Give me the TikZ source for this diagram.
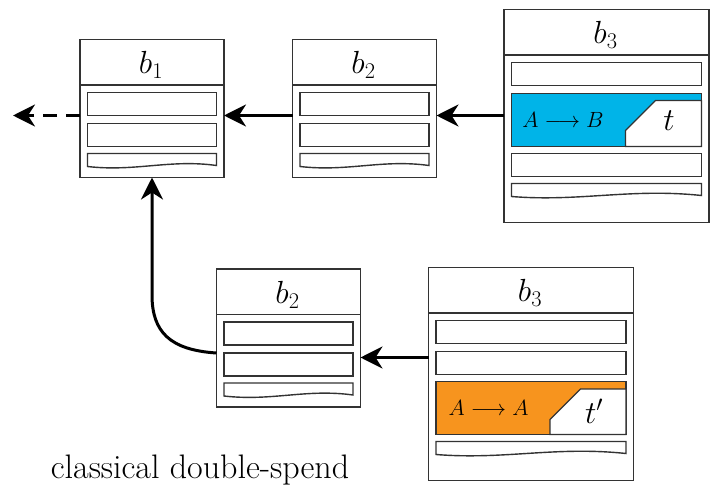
\RequirePackage{fix-cm}
\documentclass[tikz,border=0pt]{standalone}
\usepackage{amsmath}
\usepackage{xcolor}
\usetikzlibrary{arrows.meta}
\definecolor{txblue}{RGB}{0,180,232}
\definecolor{txorange}{RGB}{247,148,30}

\begin{document}
\begin{tikzpicture}[x=1pt, y=-1pt,
  block/.style={draw=black!80, line width=1.4pt, inner sep=0pt, outer sep=0pt, anchor=north west},
  row/.style={draw=black!80, line width=1.4pt},
  hdr/.style={font=\fontsize{32}{36}\selectfont},
  txt/.style={font=\fontsize{22}{26}\selectfont},
  link/.style={line width=3pt, -{Stealth[length=22pt, width=22pt, inset=7pt]}}]
\useasboundingbox (0,0) rectangle (710,487);

\node[block, minimum width=144pt, minimum height=138pt] (b1) at (80,39.5) {};
\draw[row] (80,85) -- (224,85);
\node[hdr] (l1) at (151,64.5) {$b_1$};
\draw[row] (87.5,92.5) rectangle (216.5,115.5);
\draw[row] (87.5,123.5) rectangle (216.5,146.5);
\draw[row] (87.5,153.5) -- (216.5,153.5) -- (216.5,165.5) .. controls (170,159) and (135,172) .. (87.5,166.5) -- cycle;

\node[block, minimum width=144pt, minimum height=138pt] (b2) at (292.5,39.5) {};
\draw[row] (292.5,85) -- (436.5,85);
\node[hdr] (l2) at (363.5,64.5) {$b_2$};
\draw[row] (300,92.5) rectangle (429,115.5);
\draw[row] (300,123.5) rectangle (429,146.5);
\draw[row] (300,153.5) -- (429,153.5) -- (429,165.5) .. controls (382,159) and (348,172) .. (300,166.5) -- cycle;

\node[block, minimum width=205pt, minimum height=213pt] (b3) at (504,9.5) {};
\draw[row] (504,55) -- (709,55);
\node[hdr] (l3) at (605.5,34.5) {$b_3$};
\draw[row] (511.5,62.5) rectangle (701.5,85.5);
\draw[row, fill=txblue] (511.5,93.5) rectangle (701.5,146.5);
\draw[row, fill=white] (625.5,146.5) -- (625.5,130.5) -- (655.5,100.5) -- (701.5,100.5) -- (701.5,146.5) -- cycle;
\node[txt] (tx) at (563,120) {$A\longrightarrow B$};
\node[hdr] (t) at (669,121) {$t$};
\draw[row] (511.5,153.5) rectangle (701.5,176.5);
\draw[row] (511.5,183.5) -- (701.5,183.5) -- (701.5,195.5) .. controls (630,188) and (580,202) .. (511.5,196.5) -- cycle;

\node[block, minimum width=144pt, minimum height=138pt] (b2f) at (216.5,269) {};
\draw[row] (216.5,314.5) -- (360.5,314.5);
\node[hdr] (l2f) at (287.5,294.5) {$b_2$};
\draw[row] (224,322) rectangle (353,345);
\draw[row] (224,353) rectangle (353,376);
\draw[row] (224,383) -- (353,383) -- (353,395) .. controls (306,388.5) and (272,401.5) .. (224,396) -- cycle;

\node[block, minimum width=205pt, minimum height=213pt] (b3f) at (428.5,267.5) {};
\draw[row] (428.5,313) -- (633.5,313);
\node[hdr] (l3f) at (530,293) {$b_3$};
\draw[row] (436,320.5) rectangle (626,343.5);
\draw[row] (436,351.5) rectangle (626,374.5);
\draw[row, fill=txorange] (436,381.5) rectangle (626,434.5);
\draw[row, fill=white] (550,434.5) -- (550,419.5) -- (580.5,389) -- (626,389) -- (626,434.5) -- cycle;
\node[txt] (txf) at (488.5,408) {$A\longrightarrow A$};
\node[hdr] (tf) at (594,411) {$t'$};
\draw[row] (436,441.5) -- (626,441.5) -- (626,453.5) .. controls (555,446) and (505,460) .. (436,454.5) -- cycle;

\coordinate (tail) at (13,115.5);
\draw[link, dash pattern=on 14pt off 9pt] (b1.west |- tail) -- (tail);
\draw[link] (b2.west |- tail) -- (b1.east |- tail);
\draw[link] (b3.west |- tail) -- (b2.east |- tail);
\draw[link] ([yshift=16.5pt]b3f.west) -- ([yshift=16.5pt]b3f.west -| b2f.east);
\draw[link] ([yshift=-15pt]b2f.west) .. controls (170,350) and (152,332) .. (152,295) -- (b1.south);

\node[font=\fontsize{34}{40}\selectfont, anchor=base] (cap) at (200,478) {classical double-spend};

\end{tikzpicture}
\end{document}
